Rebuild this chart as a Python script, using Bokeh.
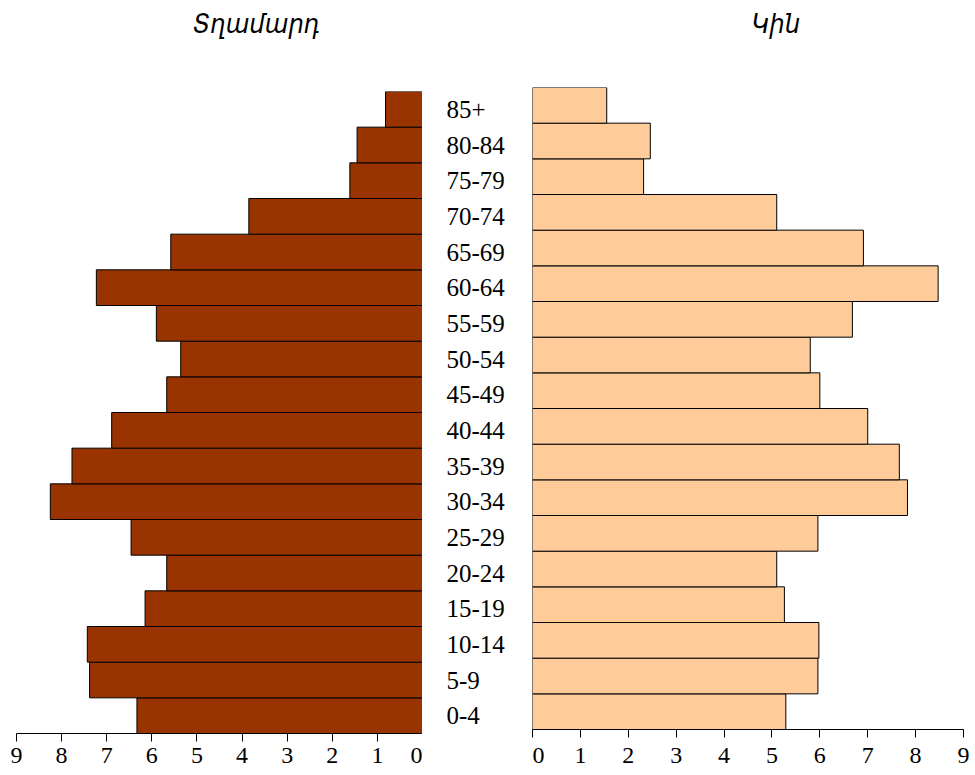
from bokeh.plotting import figure
from bokeh.models import Range1d, FactorRange, FixedTicker, Title, ColumnDataSource
from bokeh.layouts import row, column
from bokeh.core.properties import value
from bokeh.embed import file_html
from bokeh.resources import INLINE

# ---- data (bottom to top) ----
ages = ["0-4", "5-9", "10-14", "15-19", "20-24", "25-29", "30-34", "35-39", "40-44",
        "45-49", "50-54", "55-59", "60-64", "65-69", "70-74", "75-79", "80-84", "85+"]
male = [6.33, 7.38, 7.43, 6.15, 5.67, 6.46, 8.25, 7.77, 6.89,
        5.67, 5.36, 5.90, 7.23, 5.58, 3.85, 1.61, 1.45, 0.82]
female = [5.29, 5.96, 5.98, 5.26, 5.10, 5.96, 7.83, 7.66, 7.00,
          6.00, 5.80, 6.68, 8.47, 6.91, 5.10, 2.32, 2.46, 1.55]
ticks = [0, 1, 2, 3, 4, 5, 6, 7, 8, 9]
title_m = "Տղամարդ"
title_f = "Կին"

src = ColumnDataSource(dict(age=ages, male=male, female=female))

SERIF = "Liberation Serif"
TITLE_FONT = "DejaVu Sans Condensed, DejaVu Sans"


def style_axis(p, standoff):
    ax = p.xaxis[0]
    ax.ticker = FixedTicker(ticks=ticks)
    ax.minor_tick_line_color = None
    ax.major_tick_in = 0
    ax.major_tick_out = 8
    ax.major_tick_line_color = "black"
    ax.axis_line_color = "black"
    ax.major_label_text_font = SERIF
    ax.major_label_text_font_size = "24px"
    ax.major_label_text_color = "black"
    ax.major_label_standoff = standoff
    p.grid.visible = False
    p.outline_line_color = None


def title_fig(text, width, bl, br, align, offset):
    t = figure(width=width, height=50, output_backend="svg", toolbar_location=None,
               x_axis_location=None, y_axis_location=None,
               min_border_left=bl, min_border_right=br, min_border_top=0, min_border_bottom=0)
    t.title = Title(text=text, align=align, offset=offset, standoff=10, text_font=TITLE_FONT,
                    text_font_style="italic", text_font_size="27px", text_color="black")
    t.grid.visible = False
    t.outline_line_color = None
    return t


# ---- titles ----
tl = title_fig(title_m, 532, 5, 25, "center", 0)
tr = title_fig(title_f, 443, 0, 12, "left", 219)

# ---- left panel (men) ----
left = figure(width=422, height=725, x_range=Range1d(9, 0), y_range=FactorRange(factors=ages),
              y_axis_location=None, output_backend="svg", toolbar_location=None,
              min_border_left=16, min_border_right=0, min_border_top=41, min_border_bottom=42)
left.hbar(y="age", left=0, right="male", height=1, source=src,
          fill_color="#993300", line_color="black", line_width=1)
style_axis(left, 6)

# ---- middle (age labels) ----
mid = figure(width=110, height=725, x_range=Range1d(0, 1), y_range=FactorRange(factors=ages),
             x_axis_location=None, y_axis_location=None, output_backend="svg",
             toolbar_location=None, min_border_left=0, min_border_right=0,
             min_border_top=41, min_border_bottom=42)
mid.text(x=0, y="age", text="age", source=src, x_offset=24, text_align="left",
         text_baseline="middle", text_font=value(SERIF), text_font_size="25px",
         text_color="black")
mid.grid.visible = False
mid.outline_line_color = None

# ---- right panel (women) ----
right = figure(width=443, height=725, x_range=Range1d(0, 9), y_range=FactorRange(factors=ages),
               y_axis_location=None, output_backend="svg", toolbar_location=None,
               min_border_left=0, min_border_right=12, min_border_top=37, min_border_bottom=46)
right.hbar(y="age", left=0, right="female", height=1, source=src,
           fill_color="#FFCC99", line_color="black", line_width=1)
style_axis(right, 10)

layout = row(column(tl, row(left, mid)), column(tr, right))
open("out.html", "w").write(file_html(layout, INLINE))
